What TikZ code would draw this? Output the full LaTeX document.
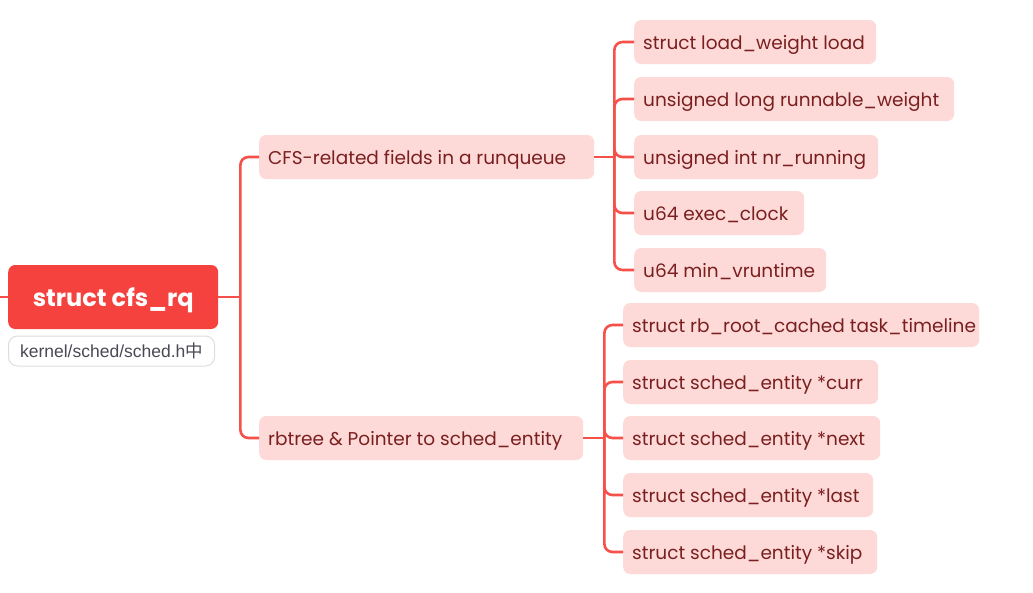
\documentclass[tikz,border=0pt]{standalone}
\usepackage{fontspec}
\setmainfont{Poppins}
\newfontfamily\subfont{Liberation Sans}
\newfontfamily\cjk{Noto Sans CJK SC}
\definecolor{linered}{HTML}{F5504A}
\definecolor{rootred}{HTML}{F5423E}
\definecolor{leafpink}{HTML}{FDDAD8}
\definecolor{leaftext}{HTML}{7A1F1F}
\definecolor{subgray}{HTML}{4A4A55}
\definecolor{subborder}{HTML}{DDDDDD}
\newcommand\lefttext[2]{\makebox[\dimexpr#1-18pt\relax][l]{#2}}
\tikzset{
  pill/.style={fill=leafpink, rounded corners=7pt, minimum height=44pt, anchor=west,
    text=leaftext, font=\fontsize{18.5}{20}\selectfont, inner xsep=9pt, inner ysep=0pt,
    text height=15pt, text depth=0pt},
  rootbox/.style={fill=rootred, rounded corners=7pt, minimum height=64pt, minimum width=210pt,
    anchor=west, text=white, font=\fontsize{24}{28}\selectfont\bfseries,
    text height=19pt, text depth=0pt, inner ysep=0pt},
  subbox/.style={draw=subborder, line width=1pt, fill=white, rounded corners=9pt, minimum height=30pt,
    minimum width=206pt, anchor=west, text=subgray, font=\subfont\fontsize{17.5}{19}\selectfont},
  conn/.style={draw=linered, line width=2.6pt, rounded corners=8pt},
}
\begin{document}
\begin{tikzpicture}[x=1pt,y=-1pt]
\useasboundingbox (0,0) rectangle (1033,592);
% root
\node[rootbox] (root) at (8,297) {struct cfs\_rq};
\node[subbox] (sub) at (8,351) {kernel/sched/sched.h{\cjk 中}};
\coordinate (stub) at (0,297);
% branches
\node[pill] (b1) at (259,157) {\lefttext{335pt}{CFS-related fields in a runqueue}};
\node[pill] (b2) at (259,438) {\lefttext{324pt}{rbtree \& Pointer to sched\_entity}};
% group 1 leaves
\node[pill] (a1) at (634,42) {\lefttext{242pt}{struct load\_weight load}};
\node[pill] (a2) at (634,99) {\lefttext{320pt}{unsigned long runnable\_weight}};
\node[pill] (a3) at (634,157) {\lefttext{244pt}{unsigned int nr\_running}};
\node[pill] (a4) at (634,213) {\lefttext{170pt}{u64 exec\_clock}};
\node[pill] (a5) at (634,270) {\lefttext{192pt}{u64 min\_vruntime}};
% group 2 leaves
\node[pill] (c1) at (623,325) {\lefttext{356pt}{struct rb\_root\_cached task\_timeline}};
\node[pill] (c2) at (623,382) {\lefttext{255pt}{struct sched\_entity *curr}};
\node[pill] (c3) at (623,438) {\lefttext{257pt}{struct sched\_entity *next}};
\node[pill] (c4) at (623,495) {\lefttext{250pt}{struct sched\_entity *last}};
\node[pill] (c5) at (623,552) {\lefttext{254pt}{struct sched\_entity *skip}};
% junctions
\coordinate (j0) at ([xshift=22pt]root.east);
\coordinate (j1) at ([xshift=20pt]b1.east);
\coordinate (j2) at ([xshift=21pt]b2.east);
% connectors
\path[conn] (stub) -- (root.west);
\path[conn] (root.east) -- (j0);
\path[conn] (j0) |- (b1.west);
\path[conn] (j0) |- (b2.west);
\path[conn] (b1.east) -- (j1);
\foreach \n in {a1,a2,a3,a4,a5}{
  \path[conn] (j1) |- (\n.west);
}
\path[conn] (b2.east) -- (j2);
\foreach \n in {c1,c2,c3,c4,c5}{
  \path[conn] (j2) |- (\n.west);
}
\end{tikzpicture}
\end{document}
